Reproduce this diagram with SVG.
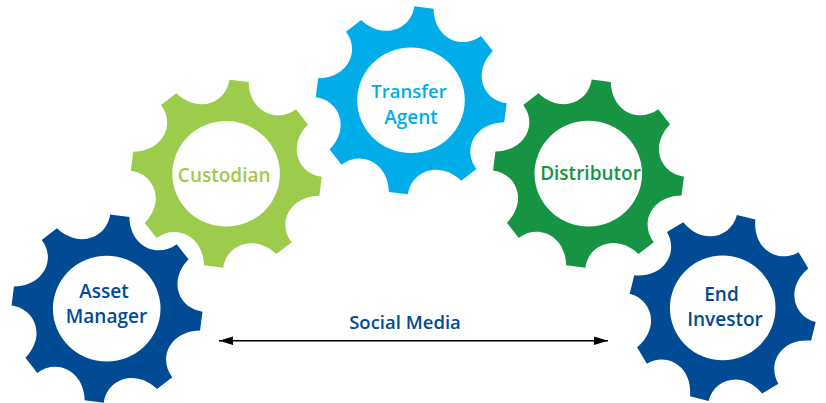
<svg xmlns="http://www.w3.org/2000/svg" width="826" height="403" viewBox="0 0 826 403">
<style>
.t{font-family:"Open Sans","Noto Sans","Liberation Sans",sans-serif;font-size:19px;font-weight:600;text-anchor:middle}
.s{font-size:18.5px}
.navy{fill:#004b93}.lime{fill:#9dcb4b}.cyan{fill:#00ade8}.green{fill:#169443}
.hole{fill:#fff}
.link{stroke:#000;stroke-width:1.6;fill:none;marker-start:url(#a);marker-end:url(#a)}
</style>
<defs>
<marker id="a" markerUnits="userSpaceOnUse" markerWidth="16" markerHeight="10" refX="14" refY="5" orient="auto-start-reverse"><path d="M0,0.8 L14,5 L0,9.2 Z" fill="#000"/></marker>
<path id="g" d="M22,-91.67 C22.67,-61.67 50,-50 68.67,-64.33 L80.38,-49.26 C59.64,-27.58 70.71,0 94.05,3.07 L91.67,22 C61.67,22.67 50,50 64.33,68.67 L49.26,80.38 C27.58,59.64 0,70.71 -3.07,94.05 L-22,91.67 C-22.67,61.67 -50,50 -68.67,64.33 L-80.38,49.26 C-59.64,27.58 -70.71,0 -94.05,-3.07 L-91.67,-22 C-61.67,-22.67 -50,-50 -64.33,-68.67 L-49.26,-80.38 C-27.58,-59.64 0,-70.71 3.07,-94.05 Z"/>
</defs>
<g id="connectors"><line class="link" x1="219" y1="340.7" x2="608" y2="340.7"/></g>
<g id="asset-manager"><use href="#g" class="navy" transform="translate(107 308.6) scale(1.015 1)"/><ellipse class="hole" cx="106.7" cy="308.6" rx="53.8" ry="52.8"/><text class="t navy" x="104" y="297.5">Asset</text><text class="t navy" x="106.5" y="322.7">Manager</text></g>
<g id="custodian"><use href="#g" class="lime" transform="translate(226.3 173.7) scale(1.015 1)"/><ellipse class="hole" cx="226.1" cy="173.8" rx="53.8" ry="52.8"/><text class="t lime" x="224.2" y="181.7">Custodian</text></g>
<g id="transfer-agent"><use href="#g" class="cyan" transform="translate(411.2 100.3) scale(1.015 1)"/><ellipse class="hole" cx="411" cy="100.3" rx="53.8" ry="52.8"/><text class="t cyan s" x="409" y="97.7">Transfer</text><text class="t cyan" x="411" y="124">Agent</text></g>
<g id="distributor"><use href="#g" class="green" transform="translate(588.5 173.6) scale(1.015 1)"/><ellipse class="hole" cx="588.3" cy="173.6" rx="53.8" ry="52.8"/><text class="t green" x="590.5" y="180">Distributor</text></g>
<g id="end-investor"><use href="#g" class="navy" transform="translate(722.7 307.9) rotate(6.8)"/><ellipse class="hole" cx="722.7" cy="307.9" rx="52.8" ry="52.3"/><text class="t navy" x="721.5" y="300.7">End</text><text class="t navy" x="725" y="326">Investor</text></g>
<text class="t navy s" x="405" y="329" id="social-media">Social Media</text>
</svg>
